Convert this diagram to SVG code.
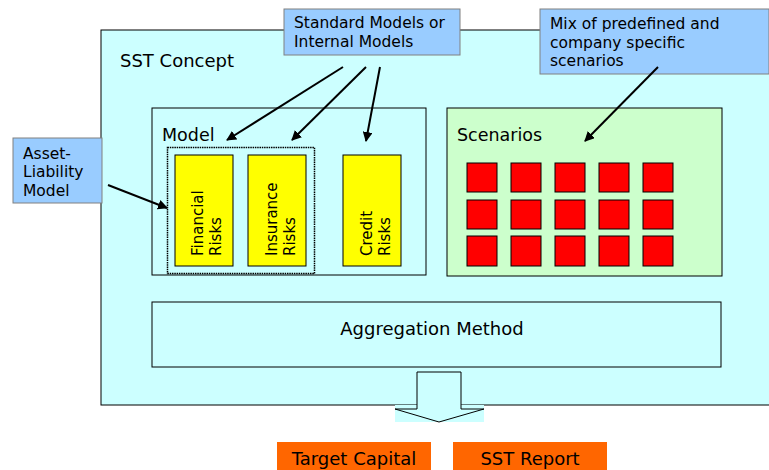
<svg xmlns="http://www.w3.org/2000/svg" width="769" height="470" viewBox="0 0 769 470">
<defs>
<style>
text{font-family:"DejaVu Sans","Liberation Sans",sans-serif;fill:#000}
.box{stroke:#000;stroke-width:1}
.call{fill:#99CCFF;stroke:#808080;stroke-width:1}
.risk{fill:#FFFF00;stroke:#000;stroke-width:1}
.sc{fill:#FF0000;stroke:#000;stroke-width:1}
.out{fill:#FF6600}
.arr{stroke:#000;stroke-width:2;fill:none;marker-end:url(#ah)}
</style>
<marker id="ah" viewBox="0 0 10 10" refX="9" refY="5" markerWidth="5" markerHeight="5" orient="auto" markerUnits="strokeWidth">
<path d="M0,0 L10,5 L0,10 z" fill="#000"/>
</marker>
</defs>
<rect width="769" height="470" fill="#fff"/>
<g id="sst-concept">
<rect class="box" x="101" y="30" width="670" height="375" fill="#CCFFFF"/>
<text x="120" y="67" font-size="18">SST Concept</text>
</g>
<g id="model">
<rect class="box" x="152" y="108" width="274" height="167" fill="#CCFFFF"/>
<text x="162" y="141" font-size="17.5">Model</text>
<rect x="167.5" y="147.5" width="147" height="126" fill="none" stroke="#000" stroke-width="1.5" stroke-dasharray="1.5,0.8"/>
</g>
<g id="financial-risks">
<rect class="risk" x="175" y="155" width="58" height="111"/>
<text transform="translate(203,256) rotate(-90)" font-size="15">Financial</text>
<text transform="translate(221,256) rotate(-90)" font-size="15">Risks</text>
</g>
<g id="insurance-risks">
<rect class="risk" x="248" y="155" width="58" height="111"/>
<text transform="translate(277,256) rotate(-90)" font-size="15">Insurance</text>
<text transform="translate(295,256) rotate(-90)" font-size="15">Risks</text>
</g>
<g id="credit-risks">
<rect class="risk" x="343" y="155" width="58" height="111"/>
<text transform="translate(372,256) rotate(-90)" font-size="15">Credit</text>
<text transform="translate(390,256) rotate(-90)" font-size="15">Risks</text>
</g>
<g id="scenarios">
<rect class="box" x="447" y="108" width="275" height="168" fill="#CCFFCC"/>
<text x="457" y="141" font-size="17.5">Scenarios</text>
<g>
<rect class="sc" x="467" y="163" width="30" height="29"/><rect class="sc" x="511" y="163" width="30" height="29"/><rect class="sc" x="555" y="163" width="30" height="29"/><rect class="sc" x="599" y="163" width="30" height="29"/><rect class="sc" x="643" y="163" width="30" height="29"/>
<rect class="sc" x="467" y="200" width="30" height="29"/><rect class="sc" x="511" y="200" width="30" height="29"/><rect class="sc" x="555" y="200" width="30" height="29"/><rect class="sc" x="599" y="200" width="30" height="29"/><rect class="sc" x="643" y="200" width="30" height="29"/>
<rect class="sc" x="467" y="236" width="30" height="30"/><rect class="sc" x="511" y="236" width="30" height="30"/><rect class="sc" x="555" y="236" width="30" height="30"/><rect class="sc" x="599" y="236" width="30" height="30"/><rect class="sc" x="643" y="236" width="30" height="30"/>
</g>
</g>
<g id="aggregation-method">
<rect class="box" x="152" y="302" width="569" height="65" fill="#CCFFFF"/>
<text x="432" y="335" font-size="18" text-anchor="middle">Aggregation Method</text>
</g>
<g id="standard-models">
<rect class="call" x="284" y="9" width="176" height="46"/>
<text x="294" y="28" font-size="15.5">Standard Models or</text>
<text x="294" y="47" font-size="15.5">Internal Models</text>
</g>
<g id="mix-scenarios">
<rect class="call" x="540" y="9" width="229" height="65"/>
<text x="550" y="29" font-size="15.5">Mix of predefined and</text>
<text x="550" y="48" font-size="15.5">company specific</text>
<text x="550" y="66" font-size="15.5">scenarios</text>
</g>
<g id="asset-liability-model">
<rect class="call" x="13" y="138" width="89" height="65"/>
<text x="23" y="159" font-size="15.5">Asset-</text>
<text x="23" y="177" font-size="15.5">Liability</text>
<text x="23" y="196" font-size="15.5">Model</text>
</g>
<g id="target-capital">
<rect class="out" x="277" y="442" width="154" height="28"/>
<text x="354" y="465" font-size="18" text-anchor="middle">Target Capital</text>
</g>
<g id="sst-report">
<rect class="out" x="453" y="442" width="154" height="28"/>
<text x="530" y="465" font-size="18" text-anchor="middle">SST Report</text>
</g>
<g id="connectors">
<line class="arr" x1="343" y1="67" x2="227" y2="140"/>
<line class="arr" x1="366" y1="67" x2="292" y2="140"/>
<line class="arr" x1="380" y1="67" x2="366" y2="141"/>
<line class="arr" x1="658" y1="67" x2="585" y2="141"/>
<line class="arr" x1="108" y1="185" x2="167" y2="208"/>
<rect x="395" y="405" width="89" height="17" fill="#CCFFFF"/>
<path d="M417,372 L461,372 L461,409 L484,409 L439,422 L395,409 L417,409 Z" fill="#CCFFFF" stroke="#000" stroke-width="1"/>
</g>
</svg>
